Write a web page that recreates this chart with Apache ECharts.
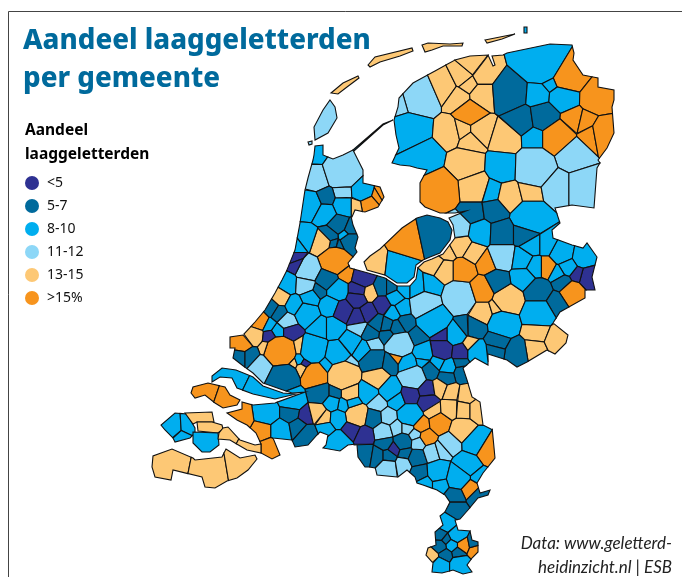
<!DOCTYPE html>
<html lang="nl">
<head>
<meta charset="UTF-8">
<title>Aandeel laaggeletterden per gemeente</title>
<script src="https://cdn.jsdelivr.net/npm/echarts@6/dist/echarts.min.js"></script>
<style>
  html, body { margin: 0; padding: 0; background: #fff; }
  #chart { width: 682px; height: 577px; }
</style>
</head>
<body>
<div id="chart"></div>
<script>
// klassen: 0 <5, 1 5-7, 2 8-10, 3 11-12, 4 13-15, 5 >15%
const klasseLabels = ['<5', '5-7', '8-10', '11-12', '13-15', '>15%'];
const klasseKleuren = ['#2e3192', '#006a9c', '#00aeef', '#8dd7f7', '#fdc875', '#f7941d'];

// waarde per gemeente, per regio
const klasseHolland = [2,3,3,2,3,2,5,5,5,4, 1,2,2,1,1,1,2,1,1,1, 4,5,2,2,3,0,0,2,4,1, 5,2,0,0,4,1,1,1,3];
const klasseZuid = [5,4,1,1,3,2,2,0,0,5, 5,4,4,1,1,3,1,4,2,0, 4,1,5,2,2,2,2,1,3,3, 2,4,4,2,2,2,2,2,2,0, 0,0,0,0,3,1,1,1,1];
const klasseMidden = [2,2,2,2,2,2,1,1,3,3, 5,4,4,4,2,2,5,4,4,4, 4,4,5];
const klasseNoord = [3,3,2,2,4,4,4,4,4,4, 4,4,4,4,4,4,4,4,2,1, 1,1,2,5,2,2,2,2,5,5, 5,5,5,5,3,3,2,4,4,5, 5];
const klasseNoordOost = [3,3];
const klasseOost = [1,1,2,3,2,1,1,3,2,2, 2,2,2,2,5,0,0,2,2,1, 5,2,1,1,1,1,1,2,2,4, 4,4,1,1,1,2,4,0,0,0, 1,3,5,2,1,2,2,1,1,1, 1,2,2,3];
const klasseBrabant = [1,1,4,2,2,2,3,0,0,0, 4,4,2,2,2,4,2,1,3,3, 3,2,3,0,0,2,1,1,1,0, 1,1,1,3,3,1,1,3,3,5, 5,5,3,3,3,4,2,5,2,2, 2,5,1,1,4,4,4,4,4,4, 2,2,2,1,0,4,2,5,5,1, 1,5,2];
const klasseLimburg = [2,2,1,2,1,2,1,2,1,1, 5,5,1,1,4,2,2];
const klasseFlevoland = [4,2,5,1];
const klasseEilanden = [3,3,4,4,4,4,2];
const klasseStrip = [2,2];
const klasseSchouwen = [5,5];
const klasseWalcheren = [2,2,2];
const klasseNoordBeveland = [4];
const klasseMiddenBeveland = [4];
const klasseZuidBeveland = [2];
const klasseKapelle = [4,4];
const klasseVlaanderen = [4,4,4];
const klasseDijk = [2];

// ligging van de gemeenten op de kaart: [x, y, straal]
const zadenHolland = [[318,153,5],[317,178,9],[342,170,17],[310,205,10],[343,193,5],[363,192,9],[381,193,3],[376,196,3],[368,203,7],[357,205,4],
  [326,198,5],[343,205,7],[325,213,8],[338,225,7],[350,230,4],[350,242,8],[345,235,3],[330,235,5],[333,245,4],[339,247,3],
  [322,243,8],[335,260,13],[307,238,6],[295,247,5],[308,270,10],[295,257,4],[298,265,4],[288,284,6],[280,297,5],[327,280,9],
  [346,274,4],[337,290,9],[363,278,9],[358,290,7],[369,292,5],[382,287,5],[390,287,4],[320,290,4],[305,285,7]];
const zadenZuid = [[258,320,9],[253,335,8],[270,308,6],[278,313,4],[287,322,5],[278,332,4],[268,325,3],[290,332,5],[270,337,4],[242,343,8],
  [280,352,15],[268,348,4],[300,348,3],[240,355,4],[250,355,4],[263,367,9],[280,363,3],[292,363,3],[300,360,3],[305,363,3],
  [302,368,3],[283,377,14],[315,375,11],[313,350,12],[337,355,10],[352,343,7],[363,350,7],[373,360,10],[373,345,4],[347,365,4],
  [327,365,4],[343,375,14],[377,378,9],[307,313,9],[310,298,6],[295,305,5],[320,327,5],[333,327,5],[330,305,7],
  [343,310,7],[357,298,7],[368,313,6],[358,317,5],[383,305,5],[360,328,3],[370,333,5],[377,323,5],[387,325,5],[388,335,4]];
const zadenMidden = [[395,298,5],[405,288,5],[417,288,7],[430,287,6],[393,313,5],[402,308,5],[405,323,5],[397,328,6],[425,305,13],[460,297,14],
  [482,290,10],[508,300,13],[482,313,8],[498,308,5],[433,320,14],[455,335,8],[463,270,9],[447,252,4],[445,270,7],[437,265,4],
  [460,245,8],[473,253,6],[487,263,6]];
const zadenNoord = [[420,97,16],[403,102,4],[412,130,14],[425,157,13],[443,87,10],[463,77,7],[457,97,6],[450,133,8],[463,130,6],[473,65,7],
  [467,82,5],[483,73,8],[483,95,7],[480,130,8],[506,138,10],[470,140,6],[465,165,13],[473,187,12],[503,167,10],[510,93,15],
  [522,120,11],[543,117,12],[540,58,24],[568,75,15],[537,95,8],[552,82,4],[563,97,10],[535,137,7],[597,98,11],[573,120,5],
  [586,123,4],[592,135,7],[603,133,11],[557,137,14],[573,155,13],[535,168,18],[492,193,5],[510,197,10],[530,192,8],[470,114,9],
  [440,190,17]];
const zadenNoordOost = [[557,187,13],[583,187,15]];
const zadenOost = [[473,213,6],[495,210,8],[530,217,15],[458,228,9],[480,232,8],[502,233,9],[525,233,9],[502,257,10],[522,260,7],[532,245,6],
  [535,267,6],[562,253,9],[583,257,8],[547,245,5],[547,267,5],[588,277,6],[577,274,3],[568,267,6],[558,273,3],[563,282,4],
  [572,292,8],[523,278,8],[497,282,9],[538,292,10],[555,303,6],[475,327,7],[465,327,3],[503,323,12],[538,313,13],[537,332,8],
  [535,350,8],[557,340,9],[497,342,7],[517,353,9],[495,350,6],[477,352,8],[470,345,3],[442,335,5],[442,350,9],[460,352,6],
  [417,337,5],[400,345,12],[397,357,5],[423,353,8],[430,370,6],[438,362,5],[448,367,6],[462,373,6],[460,363,3],[447,377,5],
  [390,363,6],[408,363,8],[422,360,5],[413,377,11]];
const zadenBrabant = [[320,393,8],[335,393,4],[350,393,7],[368,393,8],[390,390,9],[397,400,6],[377,403,6],[410,395,7],[427,390,6],[428,402,7],
  [433,410,5],[357,415,10],[353,403,5],[343,405,4],[332,403,6],[323,417,6],[338,418,6],[373,418,7],[388,417,5],[383,432,7],
  [397,428,4],[410,415,10],[407,428,4],[352,429,5],[365,435,6],[338,443,9],[365,455,8],[377,457,7],[388,457,6],[394,449,4],
  [385,443,5],[403,442,7],[405,453,4],[387,467,8],[403,465,6],[417,458,7],[420,473,7],[415,435,3],[418,443,4],[421,425,5],
  [427,437,5],[440,423,8],[432,453,6],[442,450,5],[450,443,8],[462,430,10],[475,442,10],[488,450,9],[467,465,10],[438,472,10],
  [458,477,11],[470,488,6],[455,495,5],[477,495,4],[440,388,5],[451,392,5],[466,395,6],[450,409,7],[463,410,6],[477,410,6],
  [477,477,3],[267,413,10],[292,400,10],[290,413,7],[306,416,5],[318,413,7],[280,430,8],[263,430,6],[270,448,6],[298,427,6],
  [307,435,8],[240,417,9],[325,428,4]];
const zadenLimburg = [[425,483,6],[440,483,6],[455,510,6],[447,523,7],[441,535,3],[457,535,7],[447,540,3],[452,545,5],[458,552,4],[440,547,5],
  [463,545,5],[475,550,3],[473,543,3],[445,555,5],[432,556,5],[440,565,7],[460,565,8]];
const zadenFlevoland = [[375,263,10],[400,266,13],[407,243,14],[435,237,15]];
const zadenEilanden = [[325,120,0],[310,143,0],[345,85,0],[390,57,0],[440,46,0],[500,38,0],[525,30,0]];
const zadenStrip = [[228,374,8],[265,392,10]];
const zadenSchouwen = [[205,390,0],[228,398,0]];
const zadenWalcheren = [[172,426,8],[188,425,6],[182,438,4]];
const zadenNoordBeveland = [[198,417,0]];
const zadenMiddenBeveland = [[210,427,0]];
const zadenZuidBeveland = [[206,442,0]];
const zadenKapelle = [[226,434,0],[250,447,0]];
const zadenVlaanderen = [[170,462,10],[210,470,12],[240,465,8]];
const zadenDijk = [[370,135,0]];

// kustlijnen
const vasteland = [[315,146],[323,145],[323,155],[333,159],[343,155],[353,150],[358,160],[363,170],[363,183],[380,187],[384,197],[378,207],[365,212],[355,210],[352,217],[353,225],[358,237],[355,248],[357,252],[348,263],[350,268],[368,273],[385,278],[397,286],[410,286],[416,279],[418,267],[424,262],[432,259],[443,254],[455,238],[453,225],[449,218],[466,211],[455,213],[440,213],[425,207],[420,202],[420,183],[427,170],[417,168],[410,166],[400,165],[392,163],[399,148],[396,135],[394,120],[398,107],[399,98],[413,83],[435,71],[455,60],[470,56],[488,55],[493,66],[495,65],[492,56],[503,55],[507,53],[550,44],[572,45],[574,53],[573,60],[583,75],[598,78],[598,87],[614,90],[614,100],[612,107],[614,133],[607,148],[598,160],[600,163],[597,168],[594,208],[572,205],[555,208],[560,223],[552,230],[553,238],[572,245],[583,248],[587,243],[597,257],[595,265],[592,277],[595,290],[585,290],[585,298],[560,312],[553,323],[568,335],[566,343],[555,354],[547,350],[527,362],[517,367],[507,360],[488,354],[488,365],[475,358],[463,368],[467,380],[472,397],[480,402],[483,425],[493,430],[495,458],[483,473],[477,483],[480,493],[490,490],[488,495],[478,498],[468,510],[460,519],[455,520],[458,530],[470,531],[472,540],[478,542],[478,552],[472,558],[467,565],[472,572],[463,574],[453,570],[442,573],[432,572],[433,563],[426,555],[428,548],[436,545],[435,532],[443,525],[440,516],[445,512],[450,502],[445,495],[437,490],[423,485],[417,483],[415,477],[407,470],[398,477],[377,475],[375,467],[365,467],[358,457],[357,445],[348,445],[340,451],[323,448],[326,445],[328,435],[320,432],[317,435],[308,445],[295,447],[292,440],[273,438],[280,455],[272,459],[261,453],[261,444],[256,433],[247,425],[237,420],[227,413],[242,409],[242,402],[253,405],[275,403],[305,392],[292,393],[283,390],[263,383],[253,373],[242,365],[233,358],[235,348],[230,348],[230,337],[243,335],[255,322],[265,310],[275,293],[282,280],[287,270],[295,250],[300,223],[305,190],[308,178],[313,160],[314,155]];
const flevoland = [[364,262],[370,256],[380,249],[402,228],[417,218],[427,215],[440,218],[448,222],[452,230],[450,240],[440,253],[430,257],[423,260],[416,265],[414,277],[407,283],[397,283],[385,275],[367,270]];
const texel = [[330,100],[335,107],[337,118],[328,133],[315,140],[314,127],[323,110]];
const haaks = [[308,142],[312,141],[312,144],[309,145]];
const vlieland = [[331,93],[343,83],[358,76],[359,78],[347,87],[338,94]];
const terschelling = [[368,65],[375,57],[412,48],[413,51],[400,56],[380,62],[370,67]];
const ameland = [[422,45],[428,43],[450,44],[463,43],[462,46],[443,46],[432,50],[425,52]];
const schier = [[485,40],[515,34],[502,39],[487,43]];
const rottum = [[524,27],[527,27],[527,33],[524,33]];
const strip = [[212,376],[222,368],[236,370],[253,377],[263,386],[283,393],[296,394],[275,399],[253,394],[237,388],[232,378],[220,377],[212,382]];
const schouwen = [[191,393],[193,387],[208,383],[225,387],[230,395],[240,400],[237,405],[223,408],[215,403],[205,395],[195,398]];
const walcheren = [[161,425],[175,413],[187,414],[195,428],[195,433],[190,438],[175,442],[173,438],[165,430]];
const noordBeveland = [[185,413],[212,412],[214,422],[197,422],[193,424]];
const middenBeveland = [[197,422],[212,422],[222,425],[223,429],[218,433],[198,431]];
const zuidBeveland = [[193,432],[218,433],[219,445],[210,452],[202,452],[193,443]];
const kapelle = [[219,433],[223,428],[228,427],[240,440],[255,445],[261,444],[261,453],[247,450],[230,440],[218,439]];
const vlaanderen = [[153,456],[172,449],[193,458],[195,460],[222,457],[226,449],[240,458],[255,455],[257,459],[248,470],[237,478],[227,481],[215,488],[205,487],[202,477],[173,470],[171,480],[155,477],[152,467]];
const dijk = [[353,150],[383,124],[393,120],[393,121],[383,125],[354,151]];

// een landdeel met zijn gemeenten
const delen = [
  { land: vasteland,
    zaden: [...zadenHolland, ...zadenZuid, ...zadenMidden, ...zadenNoord, ...zadenNoordOost, ...zadenOost, ...zadenBrabant, ...zadenLimburg],
    klasse: [...klasseHolland, ...klasseZuid, ...klasseMidden, ...klasseNoord, ...klasseNoordOost, ...klasseOost, ...klasseBrabant, ...klasseLimburg] },
  { land: flevoland, zaden: zadenFlevoland, klasse: klasseFlevoland },
  { land: texel, zaden: [zadenEilanden[0]], klasse: [klasseEilanden[0]] },
  { land: haaks, zaden: [zadenEilanden[1]], klasse: [klasseEilanden[1]] },
  { land: vlieland, zaden: [zadenEilanden[2]], klasse: [klasseEilanden[2]] },
  { land: terschelling, zaden: [zadenEilanden[3]], klasse: [klasseEilanden[3]] },
  { land: ameland, zaden: [zadenEilanden[4]], klasse: [klasseEilanden[4]] },
  { land: schier, zaden: [zadenEilanden[5]], klasse: [klasseEilanden[5]] },
  { land: rottum, zaden: [zadenEilanden[6]], klasse: [klasseEilanden[6]] },
  { land: strip, zaden: zadenStrip, klasse: klasseStrip },
  { land: schouwen, zaden: zadenSchouwen, klasse: klasseSchouwen },
  { land: walcheren, zaden: zadenWalcheren, klasse: klasseWalcheren },
  { land: noordBeveland, zaden: zadenNoordBeveland, klasse: klasseNoordBeveland },
  { land: middenBeveland, zaden: zadenMiddenBeveland, klasse: klasseMiddenBeveland },
  { land: zuidBeveland, zaden: zadenZuidBeveland, klasse: klasseZuidBeveland },
  { land: kapelle, zaden: zadenKapelle, klasse: klasseKapelle },
  { land: vlaanderen, zaden: zadenVlaanderen, klasse: klasseVlaanderen },
  { land: dijk, zaden: zadenDijk, klasse: klasseDijk }
];

// knip een ring op de bisectrice tussen twee zaden, geeft losse ringen terug
function knip(ring, a, b) {
  const nx = 2 * (b[0] - a[0]), ny = 2 * (b[1] - a[1]);
  const c = (b[0]*b[0] + b[1]*b[1] - b[2]*b[2]) - (a[0]*a[0] + a[1]*a[1] - a[2]*a[2]);
  const f = p => nx * p[0] + ny * p[1] - c;
  const n = ring.length;
  const vals = ring.map(f);
  if (vals.every(v => v <= 0)) return [ring];
  if (vals.every(v => v > 0)) return [];

  // begin bij een punt buiten, verzamel de stukken binnen
  const start = vals.findIndex(v => v > 0);
  const stukken = [];
  let cur = null;
  for (let k = 0; k < n; k++) {
    const i = (start + k) % n, j = (i + 1) % n;
    const p = ring[i], q = ring[j], fp = vals[i], fq = vals[j];
    if (fp <= 0 && cur) cur.push(p);
    if ((fp <= 0) !== (fq <= 0)) {
      const t = fp / (fp - fq);
      const x = [p[0] + t * (q[0] - p[0]), p[1] + t * (q[1] - p[1])];
      if (fq <= 0) {
        cur = [x];
      } else {
        cur.push(x);
        stukken.push(cur);
        cur = null;
      }
    }
  }
  // koppel de snijpunten langs de lijn
  const langs = p => -ny * p[0] + nx * p[1];
  const punten = [];
  stukken.forEach((s, i) => {
    punten.push({ i, begin: true, t: langs(s[0]) });
    punten.push({ i, begin: false, t: langs(s[s.length - 1]) });
  });
  punten.sort((u, v) => u.t - v.t);
  const volgende = {};
  for (let k = 0; k + 1 < punten.length; k += 2) {
    const u = punten[k], v = punten[k + 1];
    if (!u.begin) volgende[u.i] = v.i; else volgende[v.i] = u.i;
  }
  const gezien = {};
  const ringen = [];
  stukken.forEach((s, i) => {
    if (gezien[i]) return;
    let r = [], k = i;
    while (k !== undefined && !gezien[k]) {
      gezien[k] = true;
      r = r.concat(stukken[k]);
      k = volgende[k];
    }
    if (r.length > 2) ringen.push(r);
  });
  return ringen;
}

function oppervlak(r) {
  let s = 0;
  r.forEach((p, i) => { const q = r[(i + 1) % r.length]; s += p[0] * q[1] - q[0] * p[1]; });
  return Math.abs(s) / 2;
}

const features = [];
const kaartData = [];
delen.forEach((deel, d) => {
  deel.zaden.forEach((zaad, i) => {
    let ringen = [deel.land];
    deel.zaden.forEach((ander, j) => {
      if (j === i) return;
      ringen = ringen.flatMap(r => knip(r, zaad, ander));
    });
    ringen = ringen.filter(r => oppervlak(r) > 0.2);
    if (!ringen.length) return;
    const naam = 'g' + d + '-' + i;
    features.push({
      type: 'Feature',
      properties: { name: naam },
      geometry: { type: 'MultiPolygon', coordinates: ringen.map(r => [[...r, r[0]].map(p => [p[0], -p[1]])]) }
    });
    kaartData.push({ name: naam, value: deel.klasse[i] });
  });
});
echarts.registerMap('nl', { type: 'FeatureCollection', features });

const chart = echarts.init(document.getElementById('chart'));
chart.setOption({
  animation: false,
  backgroundColor: '#fff',
  title: [
    { text: 'Aandeel laaggeletterden\nper gemeente', left: 18, top: 17,
      textStyle: { fontFamily: 'Noto Sans', fontWeight: 800, fontSize: 27.7, lineHeight: 38, color: '#006a9c' } },
    { text: 'Aandeel\nlaaggeletterden', left: 20, top: 114,
      textStyle: { fontFamily: 'Noto Sans', fontWeight: 700, fontSize: 15.5, lineHeight: 24, color: '#000' } }
  ],
  visualMap: {
    type: 'piecewise',
    left: 10, top: 161,
    orient: 'vertical',
    itemSymbol: 'circle',
    itemWidth: 14, itemHeight: 14, itemGap: 9,
    selectedMode: false,
    align: 'left',
    inverse: true,
    textGap: 8,
    textStyle: { fontFamily: 'Noto Sans', fontSize: 14, color: '#111' },
    pieces: klasseLabels.map((label, i) => ({ value: i, label, color: klasseKleuren[i] }))
  },
  graphic: [
    { type: 'polyline', silent: true, shape: { points: [[8.5, 577], [8.5, 11.5], [682, 11.5]] }, style: { stroke: '#444', lineWidth: 1, fill: 'none' } },
    { type: 'text', silent: true, x: 672, y: 532, style: { text: 'Data: www.geletterd-\nheidinzicht.nl | ESB', align: 'right', fontFamily: 'Lato', fontStyle: 'italic', fontSize: 17, lineHeight: 23.5, fill: '#222' } }
  ],
  series: [{
    type: 'map',
    map: 'nl',
    aspectScale: 1,
    roam: false,
    left: 0, top: 0, width: 682, height: 577,
    boundingCoords: [[0, 0], [682, -577]],
    label: { show: false },
    silent: true,
    selectedMode: false,
    itemStyle: { borderColor: '#111', borderWidth: 1.1 },
    emphasis: { disabled: true },
    data: kaartData
  }]
});
</script>
</body>
</html>
